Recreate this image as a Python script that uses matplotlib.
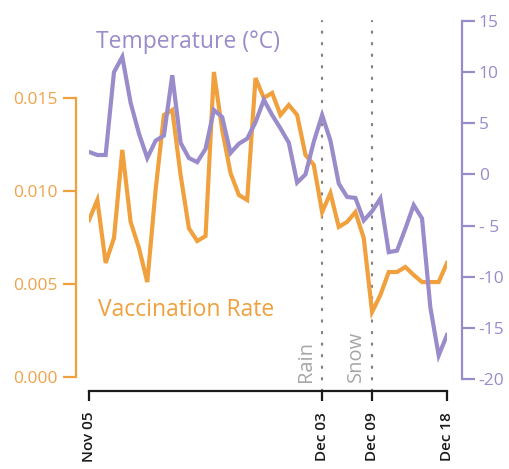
import matplotlib
matplotlib.use("Agg")
import matplotlib.pyplot as plt
import numpy as np
import pandas as pd

# Daily series, Nov 05 .. Dec 18
dates = pd.date_range("2009-11-05", "2009-12-18", freq="D")

vaccination_rate = [
    0.00844, 0.00952, 0.00613, 0.00747, 0.01222, 0.00834, 0.00693, 0.00510,
    0.01006, 0.01410, 0.01437, 0.01087, 0.00800, 0.00731, 0.00758, 0.01642,
    0.01329, 0.01097, 0.00979, 0.00952, 0.01609, 0.01502, 0.01529, 0.01410,
    0.01464, 0.01410, 0.01195, 0.01141, 0.00887, 0.00989, 0.00807, 0.00834,
    0.00887, 0.00747, 0.00349, 0.00440, 0.00564, 0.00564, 0.00591, 0.00548,
    0.00510, 0.00510, 0.00510, 0.00613,
]

temperature = [
    2.2, 1.9, 1.9, 10.0, 11.5, 7.0, 4.0, 1.6,
    3.3, 3.8, 9.7, 3.1, 1.6, 1.2, 2.5, 6.3,
    5.6, 2.1, 3.0, 3.5, 5.1, 7.3, 5.8, 4.5,
    3.1, -0.8, 0.0, 3.2, 5.8, 3.3, -0.9, -2.2,
    -2.3, -4.5, -3.6, -2.35, -7.6, -7.45, -5.3, -3.0,
    -4.3, -13.0, -17.7, -15.7,
]

tick_dates = ["2009-11-05", "2009-12-03", "2009-12-09", "2009-12-18"]
tick_labels = ["Nov 05", "Dec 03", "Dec 09", "Dec 18"]

vacc_ticks = [0.000, 0.005, 0.010, 0.015]
vacc_labels = ["0.000", "0.005", "0.010", "0.015"]
temp_ticks = [-20, -15, -10, -5, 0, 5, 10, 15]
temp_labels = ["-20", "-15", "-10", "- 5", "0", "5", "10", "15"]

events = [("2009-12-03", "Rain"), ("2009-12-09", "Snow")]

ORANGE = "#F0A03C"
ORANGE_TXT = "#EFA34A"
PURPLE = "#9A8BCB"
GREY = "#A6A6A6"

plt.rcParams["font.family"] = ["Open Sans", "DejaVu Sans"]

fig = plt.figure(figsize=(5.10, 4.69), dpi=100)
ax = fig.add_axes([89 / 510, 1 - 379 / 469, 358 / 510, 358 / 469])
ax2 = ax.twinx()

day0 = dates[0]
x = np.array([(d - day0).days for d in dates])
tick_x = [(pd.Timestamp(t) - day0).days for t in tick_dates]

ax.plot(x, vaccination_rate, color=ORANGE, lw=3.0, solid_joinstyle="miter",
        zorder=3)
ax2.plot(x, temperature, color=PURPLE, lw=3.0, solid_joinstyle="miter",
         zorder=3)

ax.set_xlim(0, x[-1])
ax.set_ylim(-2.3 / 18560, 355.7 / 18560)
ax2.set_ylim(-20, 15)

# spines
for a in (ax, ax2):
    for s in a.spines.values():
        s.set_visible(False)
ax.spines["left"].set_visible(True)
ax.spines["left"].set_color(ORANGE)
ax.spines["left"].set_linewidth(1.6)
ax.spines["left"].set_position(("outward", 9.4))
ax.spines["left"].set_bounds(0, 0.015)

ax.spines["bottom"].set_visible(True)
ax.spines["bottom"].set_color("#1a1a1a")
ax.spines["bottom"].set_linewidth(1.6)
ax.spines["bottom"].set_position(("outward", 8.6))
ax.spines["bottom"].set_bounds(0, x[-1])

ax2.spines["right"].set_visible(True)
ax2.spines["right"].set_color(PURPLE)
ax2.spines["right"].set_linewidth(1.6)
ax2.spines["right"].set_position(("outward", 10.8))
ax2.spines["right"].set_bounds(-20, 15)

ax.set_yticks(vacc_ticks)
ax.set_yticklabels(vacc_labels)
ax.tick_params(axis="y", colors=ORANGE, labelcolor=ORANGE_TXT, length=9.4,
               width=1.6, pad=4, labelsize=12.5)
ax2.set_yticks(temp_ticks)
ax2.set_yticklabels(temp_labels)
ax2.tick_params(axis="y", colors=PURPLE, labelcolor=PURPLE, length=9,
                width=1.6, pad=3, labelsize=12.5)

ax.set_xticks(tick_x)
ax.set_xticklabels(tick_labels, rotation=90, fontweight="semibold")
ax.tick_params(axis="x", colors="#1a1a1a", length=7, width=1.6, pad=8,
               labelsize=11)

# event markers
for d, label in events:
    ex = (pd.Timestamp(d) - day0).days
    ax.axvline(ex, ymin=-12 / 358, ymax=1.0, color="#8a8080", lw=1.6,
               linestyle=(0, (0.6, 4.6)), dash_capstyle="round", clip_on=False,
               zorder=1)
    ax.text(ex - 1.95, -0.0003, label, rotation=90, color=GREY, fontsize=14.5,
            ha="center", va="bottom", transform=ax.transData)

# series labels
fig.text(96 / 510, 1 - 42 / 469, "Temperature (°C)", color=PURPLE,
         fontsize=16.5, ha="left", va="center")
fig.text(98 / 510, 1 - 310 / 469, "Vaccination Rate", color=ORANGE,
         fontsize=16.5, ha="left", va="center")

fig.savefig("out.png", dpi=100)
